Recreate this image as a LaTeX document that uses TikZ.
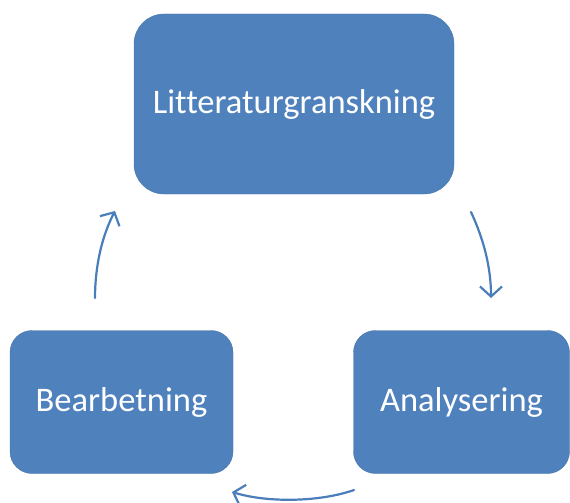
\documentclass[tikz,border=0pt]{standalone}
\usepackage{fontspec}
\setmainfont[Ligatures=NoCommon]{Carlito}
\usetikzlibrary{arrows.meta}
\definecolor{boxblue}{HTML}{4F81BD}
\definecolor{linkblue}{HTML}{4A7EBB}
\tikzset{
  procbox/.style={fill=boxblue, draw=boxblue!90!black, line width=0.4pt, text=white, inner sep=0pt,
    font=\fontsize{34.5}{40}\selectfont},
  cyclearrow/.style={draw=linkblue, line width=2.2pt, line cap=round,
    -{Straight Barb[length=10pt,width=22pt,line width=2.2pt]}}
}
\begin{document}
\begin{tikzpicture}[x=1pt,y=-1pt]
\useasboundingbox (0,0) rectangle (570,503);
\node[procbox, minimum width=320pt, minimum height=180pt, rounded corners=30pt] (lit) at (294,104) {Litteraturgranskning};
\node[procbox, minimum width=223pt, minimum height=143pt, rounded corners=22pt] (bea) at (121.5,402) {Bearbetning};
\node[procbox, minimum width=216pt, minimum height=143pt, rounded corners=22pt] (ana) at (461.5,402) {Analysering};
\coordinate (a1s) at (471,212);
\coordinate (a1e) at (491,298);
\coordinate (a2s) at (354,490);
\coordinate (a2e) at (232,492);
\coordinate (a3s) at (95,298);
\coordinate (a3e) at (115,211);
\draw[cyclearrow] (a1s) .. controls (484,240) and (491,268) .. (a1e);
\draw[cyclearrow] (a2s) .. controls (320,502) and (268,503) .. (a2e);
\draw[cyclearrow] (a3s) .. controls (95,266) and (102,236) .. (a3e);
\end{tikzpicture}
\end{document}
